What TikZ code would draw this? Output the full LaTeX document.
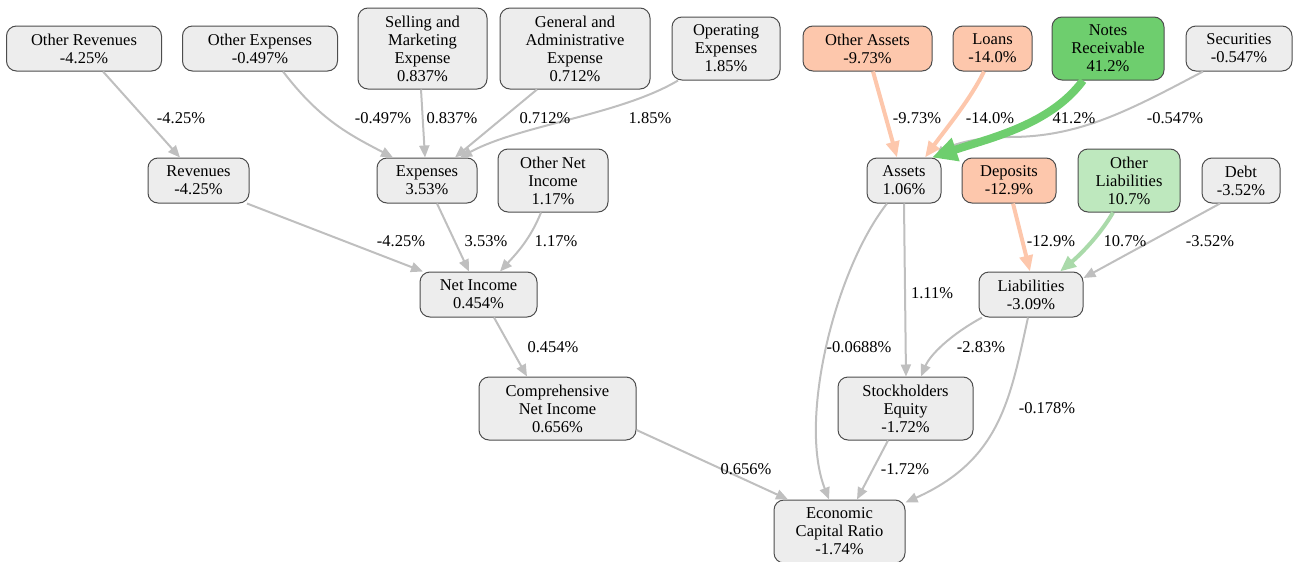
\documentclass[tikz,border=0pt]{standalone}
\usepackage{fontspec}
\setmainfont{Liberation Serif}
\usetikzlibrary{arrows.meta}
\definecolor{boxGray}{HTML}{EDEDED}
\definecolor{boxLine}{HTML}{4D4D4D}
\definecolor{linkGray}{HTML}{BFBFBF}
\definecolor{boxSalmon}{HTML}{FDC7AC}
\definecolor{boxGreen}{HTML}{6ECE6E}
\definecolor{boxGreenLt}{HTML}{BEE8BE}
\definecolor{linkGreenLt}{HTML}{AADAAA}
\begin{document}
\begin{tikzpicture}[
    x=1pt,y=-1pt,
    font=\rmfamily\fontsize{16.5}{18}\selectfont,
    finBox/.style={rectangle,rounded corners=10pt,draw=boxLine,line width=1pt,fill=boxGray,align=center,inner sep=2pt,minimum height=45pt},
    finBoxDown/.style={finBox,fill=boxSalmon},
    finBoxUp/.style={finBox,fill=boxGreen},
    finBoxUpLt/.style={finBox,fill=boxGreenLt},
    finTall/.style={minimum height=63pt},
    finTaller/.style={minimum height=81pt},
    finLink/.style={draw=linkGray,line width=2pt,-{Triangle[length=12pt,width=10pt]}},
    finLinkDown/.style={draw=boxSalmon,line width=4pt,-{Triangle[length=16pt,width=13pt]}},
    finLinkUp/.style={draw=boxGreen,line width=8pt,-{Triangle[length=25pt,width=23pt]}},
    finLinkUpLt/.style={draw=linkGreenLt,line width=4pt,-{Triangle[length=16pt,width=13pt]}},
    finPct/.style={inner sep=0pt},
]
\useasboundingbox (0,0) rectangle (1293,562);

\node[finBox,minimum width=155pt] (othRev) at (84,48.5) {Other Revenues\\-4.25\%};
\node[finBox,minimum width=155pt] (othExp) at (260,48.5) {Other Expenses\\-0.497\%};
\node[finBox,finTaller,minimum width=129pt] (sellMkt) at (422.5,48.5) {Selling and\\Marketing\\Expense\\0.837\%};
\node[finBox,finTaller,minimum width=150pt] (genAdm) at (575,48.5) {General and\\Administrative\\Expense\\0.712\%};
\node[finBox,finTall,minimum width=108pt] (opExp) at (726,48.5) {Operating\\Expenses\\1.85\%};
\node[finBoxDown,minimum width=129pt] (othAss) at (867.5,48.5) {Other Assets\\-9.73\%};
\node[finBoxDown,minimum width=79pt] (loans) at (992.5,48.5) {Loans\\-14.0\%};
\node[finBoxUp,finTall,minimum width=112pt] (notesRec) at (1108,48.5) {Notes\\Receivable\\41.2\%};
\node[finBox,minimum width=106pt] (secur) at (1239,48.5) {Securities\\-0.547\%};

\node[finBox,minimum width=101pt] (rev) at (198.5,180.5) {Revenues\\-4.25\%};
\node[finBox,minimum width=100pt] (exps) at (427,180.5) {Expenses\\3.53\%};
\node[finBox,finTall,minimum width=110pt] (othNI) at (553,180.5) {Other Net\\Income\\1.17\%};
\node[finBox,minimum width=74pt] (assets) at (904,180.5) {Assets\\1.06\%};
\node[finBoxDown,minimum width=94pt] (depos) at (1009,180.5) {Deposits\\-12.9\%};
\node[finBoxUpLt,finTall,minimum width=102pt] (othLiab) at (1129,180.5) {Other\\Liabilities\\10.7\%};
\node[finBox,minimum width=78pt] (debt) at (1241,180.5) {Debt\\-3.52\%};

\node[finBox,minimum width=117pt] (netInc) at (478.5,294.5) {Net Income\\0.454\%};
\node[finBox,minimum width=104pt] (liab) at (1031,294.5) {Liabilities\\-3.09\%};

\node[finBox,finTall,minimum width=157pt] (compNI) at (557.5,408.5) {Comprehensive\\Net Income\\0.656\%};
\node[finBox,finTall,minimum width=135pt] (stockEq) at (905.5,408.5) {Stockholders\\Equity\\-1.72\%};

\node[finBox,finTall,minimum width=131pt] (ecr) at (839.5,531.5) {Economic\\Capital Ratio\\-1.74\%};

\draw[finLink] ([xshift=19pt]othRev.south) -- ([xshift=-18.5pt]rev.north);
\draw[finLink] ([xshift=23pt]othExp.south) .. controls (320,120) and (350,135) .. ([xshift=-34pt]exps.north);
\draw[finLink] ([xshift=-1.5pt]sellMkt.south) -- ([xshift=-2pt]exps.north);
\draw[finLink] ([xshift=-38pt]genAdm.south) -- ([xshift=28pt]exps.north);
\draw[finLink] ([xshift=-48pt]opExp.south) .. controls (620,115) and (520,125) .. ([xshift=33pt]exps.north);
\draw[finLink] ([xshift=48.5pt]rev.south) -- ([xshift=-55.5pt]netInc.north);
\draw[finLink] ([xshift=10pt]exps.south) -- ([xshift=-9.5pt]netInc.north);
\draw[finLink] ([xshift=-12pt]othNI.south) .. controls (530,240) and (515,255) .. ([xshift=21.5pt]netInc.north);
\draw[finLink] ([xshift=15.5pt]netInc.south) -- ([xshift=-30.5pt]compNI.north);
\draw[finLink] ([yshift=-21.5pt]compNI.east) -- ([xshift=-51.5pt]ecr.north);

\draw[finLinkDown] ([xshift=5.5pt]othAss.south) -- ([xshift=-7pt]assets.north);
\draw[finLinkDown] ([xshift=-8.5pt]loans.south) .. controls (970,100) and (945,130) .. ([xshift=21pt]assets.north);
\draw[finLink] ([xshift=-36pt]secur.south) .. controls (1130,110) and (1080,137) .. (1010,137) .. controls (975,137) and (950,145) .. ([xshift=31pt]assets.north);
\draw[finLinkUp] ([xshift=-25pt]notesRec.south) .. controls (1050,125) and (990,138) .. ([xshift=28pt]assets.north);

\draw[finLinkDown] ([xshift=4pt]depos.south) -- ([xshift=-1pt]liab.north);
\draw[finLinkUpLt] ([xshift=-16pt]othLiab.south) .. controls (1100,235) and (1080,255) .. ([xshift=29pt]liab.north);
\draw[finLink] ([xshift=-21pt]debt.south) -- ([yshift=16.5pt]liab.east);
\draw[finLink] (assets.south) -- ([xshift=0.5pt]stockEq.north);
\draw[finLink] ([xshift=-17pt]assets.south) .. controls (835,270) and (798,420) .. ([xshift=-10.5pt]ecr.north);
\draw[finLink] ([xshift=-49pt]liab.south) .. controls (950,335) and (930,355) .. ([xshift=15.5pt]stockEq.north);
\draw[finLink] ([xshift=-3pt]liab.south) .. controls (1010,400) and (1000,460) .. ([yshift=-3pt]ecr.north east);
\draw[finLink] ([xshift=-17.5pt]stockEq.south) -- ([xshift=17.5pt]ecr.north);

\node[finPct] (pOthRev) at (181,118) {-4.25\%};
\node[finPct] (pOthExp) at (383,118) {-0.497\%};
\node[finPct] (pSellMkt) at (452,118) {0.837\%};
\node[finPct] (pGenAdm) at (545,118) {0.712\%};
\node[finPct] (pOpExp) at (650,118) {1.85\%};
\node[finPct] (pRev) at (401,241) {-4.25\%};
\node[finPct] (pExps) at (486,241) {3.53\%};
\node[finPct] (pOthNI) at (556,241) {1.17\%};
\node[finPct] (pNetInc) at (553,347) {0.454\%};
\node[finPct] (pCompNI) at (746,469) {0.656\%};
\node[finPct] (pOthAss) at (917,118) {-9.73\%};
\node[finPct] (pLoans) at (990,118) {-14.0\%};
\node[finPct] (pNotesRec) at (1074,118) {41.2\%};
\node[finPct] (pSecur) at (1175,118) {-0.547\%};
\node[finPct] (pDepos) at (1051,241) {-12.9\%};
\node[finPct] (pOthLiab) at (1125,241) {10.7\%};
\node[finPct] (pDebt) at (1210,241) {-3.52\%};
\node[finPct] (pAssSE) at (932,293) {1.11\%};
\node[finPct] (pAssECR) at (859,347) {-0.0688\%};
\node[finPct] (pLiabSE) at (981,347) {-2.83\%};
\node[finPct] (pLiabECR) at (1047,408) {-0.178\%};
\node[finPct] (pStockEq) at (905,469) {-1.72\%};
\end{tikzpicture}
\end{document}
